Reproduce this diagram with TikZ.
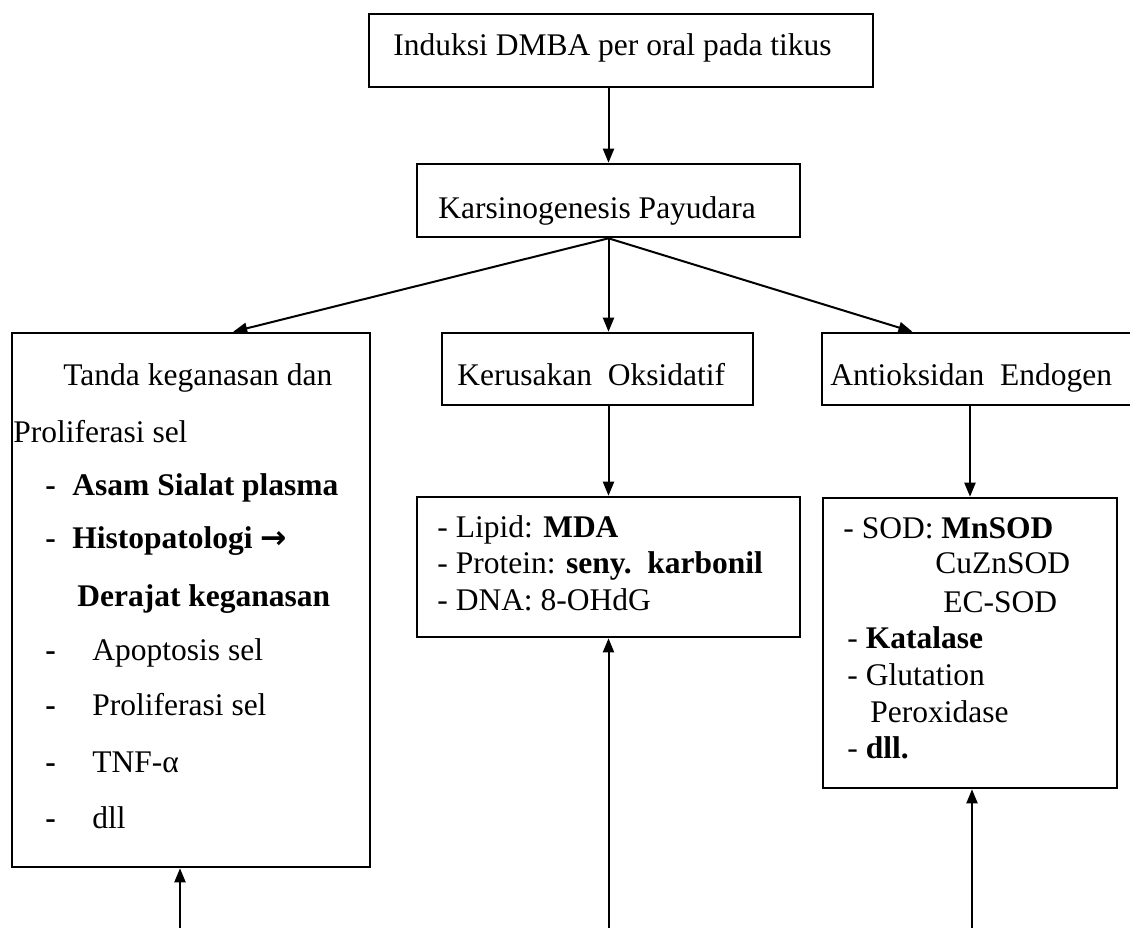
\documentclass[tikz,border=0pt]{standalone}
\usepackage{fontspec}
\setmainfont{Liberation Serif}
\newfontfamily\arrowfont{DejaVu Sans}
\usetikzlibrary{arrows.meta,calc}
\tikzset{
  box/.style={draw, line width=1.3pt, inner sep=0pt},
  txt/.style={anchor=base west, inner sep=0pt, font=\fontsize{15.75}{18}\selectfont},
  arr/.style={line width=1pt, -{Triangle[length=7pt,width=5.5pt]}}
}
\begin{document}
\begin{tikzpicture}[x=0.5pt,y=-0.5pt]
\useasboundingbox (0,0) rectangle (1130,928);
\clip (0,0) rectangle (1130,928);
% boxes
\node[box, minimum width=252pt, minimum height=36.5pt] (top) at (621,50.5) {};
\node[box, minimum width=191.5pt, minimum height=36.5pt] (kars) at (608.5,200.5) {};
\node[box, minimum width=179pt, minimum height=267pt] (lbox) at (191,600) {};
\node[box, minimum width=155.5pt, minimum height=36pt] (kerus) at (597.5,369) {};
\node[box, minimum width=158pt, minimum height=36pt] (antiox) at (980,369) {};
\node[box, minimum width=191.5pt, minimum height=70pt] (mid) at (608.5,567) {};
\node[box, minimum width=147pt, minimum height=145pt] (rlist) at (970,643) {};
% texts
\node[txt] (ttop) at (393,55) {Induksi DMBA per oral pada tikus};
\node[txt] (tkars) at (438,218) {Karsinogenesis Payudara};
\node[txt] (tkerus) at (457,385) {Kerusakan\ \ Oksidatif};
\node[txt] (tanti) at (830,385) {Antioksidan\ \ Endogen};
% left box
\node[txt] (l1) at (63,385) {Tanda keganasan dan};
\node[txt] (l2) at (13,442) {Proliferasi sel};
\node[txt] (d1) at (45,495) {\bfseries -};
\node[txt] (l3) at (72,495) {\bfseries Asam Sialat plasma};
\node[txt] (d2) at (45,548) {\bfseries -};
\node[txt] (l4) at (72,548) {\bfseries Histopatologi {\arrowfont\bfseries →}};
\node[txt] (l5) at (77,606) {\bfseries Derajat keganasan};
\node[txt] (d3) at (45,660) {\bfseries -};
\node[txt] (l6) at (92,660) {Apoptosis sel};
\node[txt] (d4) at (45,715) {\bfseries -};
\node[txt] (l7) at (92,715) {Proliferasi sel};
\node[txt] (d5) at (45,772) {\bfseries -};
\node[txt] (l8) at (92,772) {TNF-α};
\node[txt] (d6) at (45,828) {\bfseries -};
\node[txt] (l9) at (92,828) {dll};
% middle list
\node[txt] (m1) at (437,537) {- Lipid: \textbf{MDA}};
\node[txt] (m2) at (437,573) {- Protein: \textbf{seny.\ \ karbonil}};
\node[txt] (m3) at (437,610) {- DNA: 8-OHdG};
% right list
\node[txt] (r1) at (843,538) {- SOD: \textbf{MnSOD}};
\node[txt] (r2) at (935,573) {CuZnSOD};
\node[txt] (r3) at (943,612) {EC-SOD};
\node[txt] (r4) at (847,648) {- \textbf{Katalase}};
\node[txt] (r5) at (847,685) {- Glutation};
\node[txt] (r6) at (870,722) {Peroxidase};
\node[txt] (r7) at (847,758) {- \textbf{dll.}};
% connectors
\draw[arr] (kars.north |- top.south) -- (kars.north);
\draw[arr] (kars.south) -- ($(lbox.north west)!0.617!(lbox.north east)$);
\draw[arr] (kars.south) -- (kars.south |- kerus.north);
\draw[arr] (kars.south) -- ($(antiox.north west)!0.288!(antiox.north east)$);
\draw[arr] (mid.north |- kerus.south) -- (mid.north);
\draw[arr] (rlist.north |- antiox.south) -- (rlist.north);
\coordinate (b1) at (180,928);
\coordinate (b2) at (608.5,928);
\coordinate (b3) at (972,928);
\draw[arr] (b1) -- (b1 |- lbox.south);
\draw[arr] (b2) -- (b2 |- mid.south);
\draw[arr] (b3) -- (b3 |- rlist.south);
\end{tikzpicture}
\end{document}
